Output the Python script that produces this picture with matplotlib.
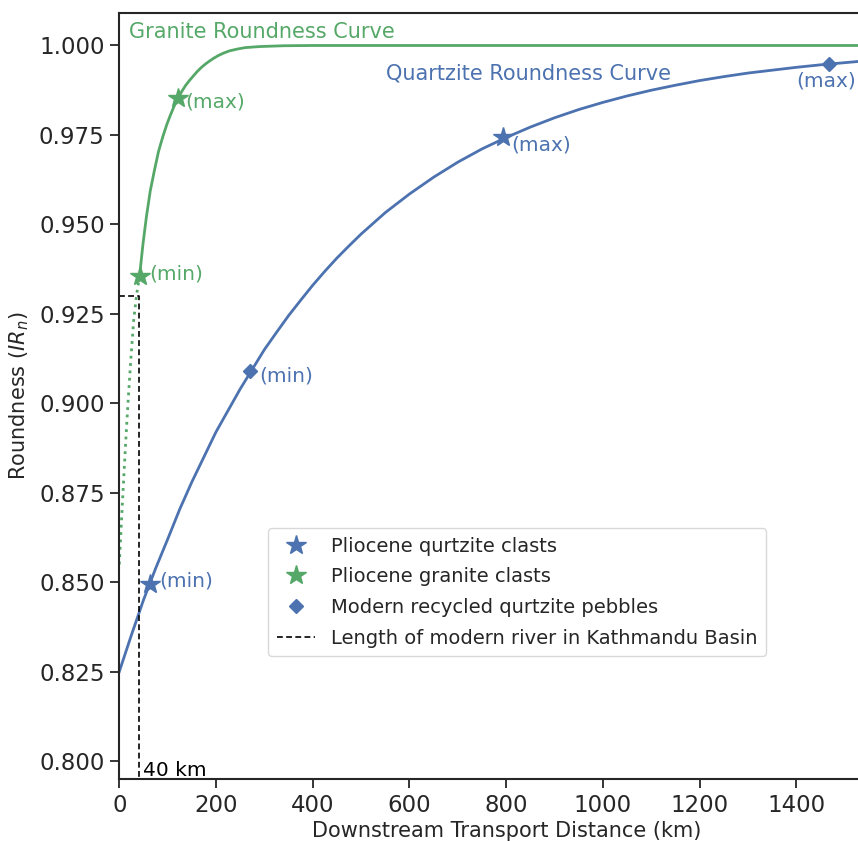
import numpy
import matplotlib
matplotlib.use("Agg")
import matplotlib.pyplot as plt





# Colours (seaborn "deep" blue and green)

blue = "#4C72B0"
green = "#55A868"
dark = "#262626"


# Quartzite roundness curve

quartz_km = [0, 25, 50, 75, 100, 125, 150, 175, 200, 225, 250, 275, 300, 325, 350, 375,
             400, 425, 450, 475, 500, 550, 600, 650, 700, 750, 800, 850, 900, 950,
             1000, 1050, 1100, 1150, 1200, 1250, 1300, 1350, 1400, 1450, 1500, 1550, 1600]
quartz_r = [0.825, 0.8352, 0.845, 0.8538, 0.862, 0.8704, 0.878, 0.885, 0.892, 0.898,
            0.904, 0.9095, 0.915, 0.9198, 0.9245, 0.9288, 0.933, 0.9369, 0.9406, 0.944,
            0.9473, 0.9533, 0.9585, 0.9632, 0.9674, 0.9711, 0.9743, 0.9772, 0.9798,
            0.9821, 0.9841, 0.9859, 0.9875, 0.9889, 0.9902, 0.9913, 0.9923, 0.9931,
            0.9939, 0.9946, 0.9952, 0.9958, 0.9962]

# Granite roundness curve (solid part and dotted extrapolation to 0 km)

granite_km = [42, 49, 56, 64, 73, 81, 90, 98, 105, 113, 121, 129, 137, 145, 152, 161,
              170, 178, 187, 196, 205, 216, 228, 244, 260, 290, 340, 400, 1600]
granite_r = [0.9356, 0.9445, 0.952, 0.9593, 0.9653, 0.9703, 0.9745, 0.9778, 0.9803,
             0.9829, 0.9852, 0.9871, 0.9888, 0.9902, 0.9913, 0.9927, 0.9939, 0.9948,
             0.9957, 0.9965, 0.9972, 0.9979, 0.9985, 0.9990, 0.9994, 0.9997, 0.99993,
             1.0, 1.0]

granite_dot_km = [0, 4, 8, 13, 18, 24, 30, 36, 42]
granite_dot_r = [0.855, 0.8655, 0.876, 0.8885, 0.9, 0.9125, 0.9235, 0.9305, 0.9356]

# Samples

quartz_star_km = [63, 793]
quartz_star_r = [0.8495, 0.9743]
quartz_star_tag = ["(min)", "(max)"]

granite_star_km = [42, 121]
granite_star_r = [0.9356, 0.9852]
granite_star_tag = ["(min)", "(max)"]

modern_km = [270, 1468]
modern_r = [0.909, 0.9947]
modern_tag = ["(min)", "(max)"]

# Length of modern river

river_km = 40
river_r = 0.930





# Figure and axes (axes run past the right edge of the picture)

fig = plt.figure(figsize=(8.58, 8.41), dpi=100)
ax = fig.add_axes([0.139, 0.0737, 0.902, 0.9105])

ax.plot(quartz_km, quartz_r, color=blue, lw=2)
ax.plot(granite_km, granite_r, color=green, lw=2)
ax.plot(granite_dot_km, granite_dot_r, color=green, lw=2, ls=":")

ax.plot([0, river_km, river_km], [river_r, river_r, 0.78], color="black", lw=1.2,
        ls=(0, (3.5, 2)), label="Length of modern river in Kathmandu Basin")

ax.plot(quartz_star_km, quartz_star_r, ls="none", marker="*", ms=15, color=blue,
        label="Pliocene qurtzite clasts")
ax.plot(granite_star_km, granite_star_r, ls="none", marker="*", ms=15, color=green,
        label="Pliocene granite clasts")
ax.plot(modern_km, modern_r, ls="none", marker="D", ms=7.5, color=blue,
        label="Modern recycled qurtzite pebbles")


# Tags next to the samples

ax.text(quartz_star_km[0] + 19, quartz_star_r[0] + 0.0008, quartz_star_tag[0], color=blue, fontsize=14.5, va="center")
ax.text(quartz_star_km[1] + 18, quartz_star_r[1] - 0.002, quartz_star_tag[1], color=blue, fontsize=14.5, va="center")
ax.text(granite_star_km[0] + 19, granite_star_r[0] + 0.0004, granite_star_tag[0], color=green, fontsize=14.5, va="center")
ax.text(granite_star_km[1] + 16, granite_star_r[1] - 0.001, granite_star_tag[1], color=green, fontsize=14.5, va="center")
ax.text(modern_km[0] + 20, modern_r[0] - 0.0015, modern_tag[0], color=blue, fontsize=14.5, va="center")
ax.text(modern_km[1] - 68, modern_r[1] - 0.0047, modern_tag[1], color=blue, fontsize=14.5, va="center")

ax.text(20, 1.0039, "Granite Roundness Curve", color=green, fontsize=15, va="center")
ax.text(551, 0.9922, "Quartzite Roundness Curve", color=blue, fontsize=15, va="center")
ax.text(river_km + 9, 0.7975, "40 km", color="black", fontsize=14.5, va="center")


# Axes look

ax.set_xlim(0, 1600)
ax.set_ylim(0.795, 1.009)
ax.set_xticks([0, 200, 400, 600, 800, 1000, 1200, 1400])
ax.set_yticks([0.800, 0.825, 0.850, 0.875, 0.900, 0.925, 0.950, 0.975, 1.000])
ax.yaxis.set_major_formatter(matplotlib.ticker.FormatStrFormatter("%.3f"))
ax.tick_params(direction="out", length=6.5, width=1.3, color=dark, labelcolor=dark,
               labelsize=16.5, pad=4)
for s in ax.spines.values():
    s.set_color(dark)
    s.set_linewidth(1.5)

ax.set_xlabel("Downstream Transport Distance (km)", fontsize=15, color=dark, labelpad=3)
ax.set_ylabel("Roundness ($IR_n$)", fontsize=15, color=dark, labelpad=6)

h, l = ax.get_legend_handles_labels()
order = [1, 2, 3, 0]
leg = ax.legend([h[i] for i in order], [l[i] for i in order], loc="upper left",
                bbox_to_anchor=(0.192, 0.328), borderaxespad=0, fontsize=14,
                frameon=True, fancybox=True, labelspacing=0.6, handletextpad=0.8,
                borderpad=0.45)
leg.get_frame().set_edgecolor("#d0d0d0")
for t in leg.get_texts():
    t.set_color(dark)

plt.savefig("out.png", dpi=100)
